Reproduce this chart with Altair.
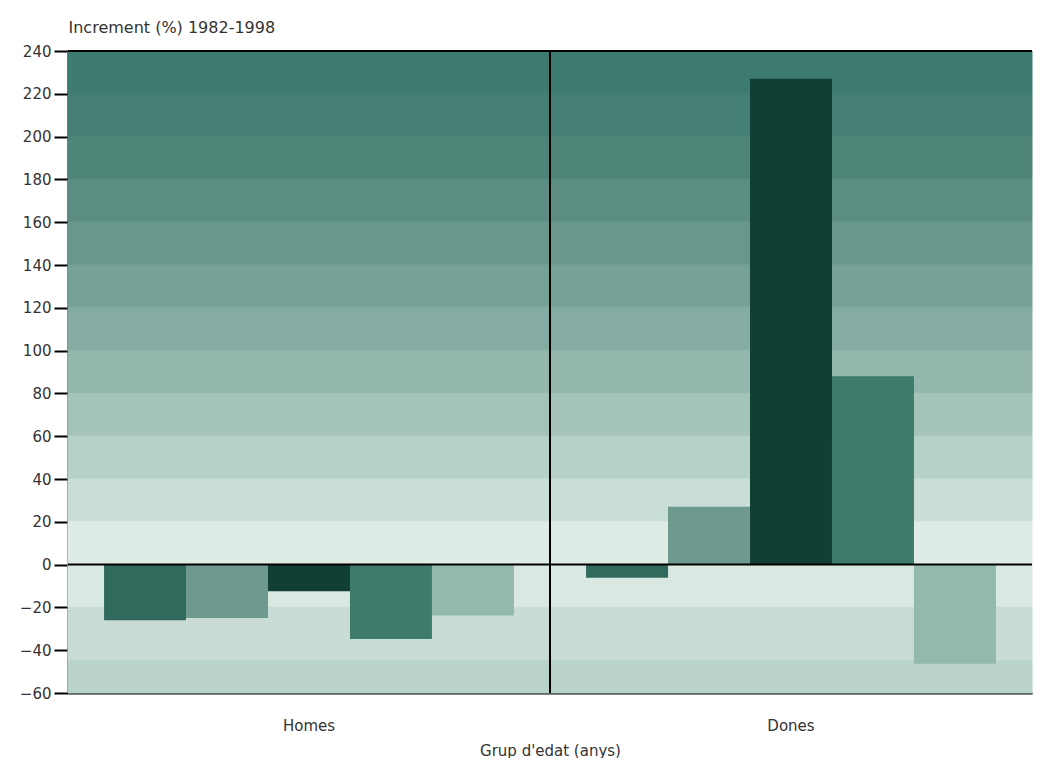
import altair as alt
import pandas as pd

# Data
groups = ["Homes", "Dones"]
series = ["s1", "s2", "s3", "s4", "s5"]
homes_values = [-26.0, -25.0, -12.5, -34.8, -23.8]
dones_values = [-6.2, 27.0, 227.0, 88.0, -46.3]
bar_colors = ["#2f6a5d", "#6d998e", "#113f34", "#3f7b6a", "#93b8ad"]

y_ticks = list(range(-60, 241, 20))

# background horizontal gradient bands (from top to bottom)
band_top = [240, 220, 200, 180, 160, 140, 120, 100, 80, 60, 40, 20, 0, -20, -45]
band_bottom = [220, 200, 180, 160, 140, 120, 100, 80, 60, 40, 20, 0, -20, -45, -60]
band_colors = ["#3d7b70", "#457f73", "#4f8579", "#5c8d82", "#69978c", "#76a197",
               "#84aca2", "#93b7ad", "#a4c4ba", "#b6d1c8", "#c9ded6", "#deece5",
               "#d9e8e1", "#c8dcd5", "#b9d3cc"]

W = 964
H = 642

bars = pd.DataFrame({
    "group": [g for g in groups for _ in series],
    "serie": series * 2,
    "value": homes_values + dones_values,
})
bands = pd.DataFrame({"top": band_top, "bottom": band_bottom, "color": band_colors})
divider = pd.DataFrame({"group": ["Dones"]})

FONT = "DejaVu Sans"

xscale = alt.Scale(domain=groups, paddingInner=0, paddingOuter=0)
yscale = alt.Scale(domain=[-60, 240], nice=False, zero=False)

bg = alt.Chart(bands).mark_rect(strokeWidth=1).encode(
    y=alt.Y("top:Q", scale=yscale),
    y2="bottom:Q",
    color=alt.Color("color:N", scale=None),
    stroke=alt.Stroke("color:N", scale=None),
)

bar_layer = alt.Chart(bars).mark_bar().encode(
    x=alt.X("group:N", scale=xscale, sort=groups,
            axis=alt.Axis(title="Grup d'edat (anys)", labelAngle=0, ticks=False,
                          labelPadding=25, titlePadding=10, domain=True,
                          domainColor="black", domainWidth=2)),
    xOffset=alt.XOffset("serie:N", sort=series,
                        scale=alt.Scale(paddingInner=0, paddingOuter=0.44)),
    y=alt.Y("value:Q", scale=yscale,
            axis=alt.Axis(values=y_ticks, title="Increment (%) 1982-1998",
                          titleAngle=0, titleAlign="left", titleBaseline="middle",
                          titleX=0, titleY=-24, grid=False, titleFontSize=16,
                          tickSize=14, tickWidth=2, tickColor="black",
                          domainColor="black", domainWidth=2, labelPadding=3,
                          minExtent=50, maxExtent=50)),
    color=alt.Color("serie:N", sort=series,
                    scale=alt.Scale(domain=series, range=bar_colors), legend=None),
)

div_rule = alt.Chart(divider).mark_rule(color="black", strokeWidth=2).encode(
    x=alt.X("group:N", scale=xscale, bandPosition=0),
)

zero_rule = alt.Chart(divider).mark_rule(color="black", strokeWidth=2).encode(
    y=alt.datum(0),
)
top_rule = alt.Chart(divider).mark_rule(color="black", strokeWidth=2).encode(
    y=alt.datum(240),
)

chart = alt.layer(bg, bar_layer, div_rule, zero_rule, top_rule).properties(
    width=W, height=H,
    padding={"left": 10, "top": 11, "right": 0, "bottom": 0},
).configure_view(stroke=None).configure_axis(
    labelFont=FONT, titleFont=FONT, labelFontSize=15, titleFontSize=15,
    labelColor="#333333", titleColor="#333333", titleFontWeight="normal",
)

chart.save("out.html", embed_options={"renderer": "svg", "actions": False})
